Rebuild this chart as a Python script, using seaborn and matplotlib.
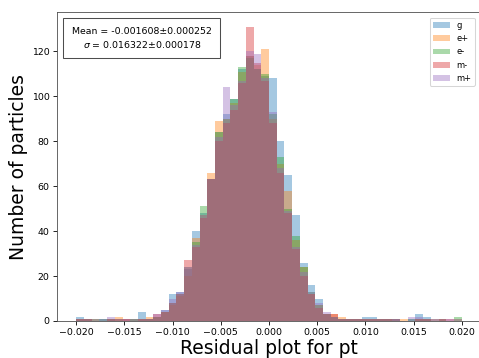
import numpy as np
import pandas as pd
import matplotlib
matplotlib.use("Agg")
import matplotlib.pyplot as plt
import seaborn as sns

# Histogram counts (50 bins from -0.02 to 0.02)
bin_lo = -0.02
bin_hi = 0.02
n_bins = 50

g_counts = [2, 1, 0, 1, 1, 0, 1, 1, 4, 1, 2, 5, 12, 13, 23, 40, 48, 63, 84, 92,
            99, 112, 118, 112, 109, 108, 80, 65, 47, 26, 16, 10, 3, 2, 1, 1, 1, 2, 2, 1,
            1, 1, 0, 1, 3, 2, 1, 0, 0, 0]
ep_counts = [1, 1, 1, 0, 1, 2, 1, 1, 1, 2, 2, 4, 7, 11, 20, 37, 47, 66, 89, 90,
             97, 111, 118, 114, 121, 90, 70, 58, 36, 24, 12, 7, 3, 3, 2, 1, 1, 1, 1, 1,
             1, 0, 1, 0, 1, 1, 1, 1, 0, 1]
em_counts = [1, 1, 1, 1, 1, 1, 0, 1, 1, 1, 2, 4, 8, 12, 24, 35, 51, 63, 84, 90,
             99, 113, 117, 112, 110, 92, 73, 50, 38, 24, 13, 7, 3, 2, 1, 1, 1, 1, 1, 1,
             1, 1, 0, 1, 1, 1, 0, 1, 0, 2]
mm_counts = [1, 1, 0, 0, 1, 1, 1, 0, 1, 1, 3, 4, 8, 12, 27, 33, 46, 63, 80, 88,
             94, 106, 131, 115, 107, 88, 66, 48, 32, 20, 12, 6, 3, 3, 1, 1, 1, 1, 1, 1,
             1, 1, 0, 0, 1, 1, 0, 1, 1, 0]
mp_counts = [1, 1, 1, 1, 2, 1, 1, 1, 1, 1, 3, 5, 10, 13, 24, 34, 47, 63, 82, 104,
             96, 107, 120, 119, 108, 93, 68, 49, 33, 22, 13, 8, 4, 2, 1, 1, 1, 1, 1, 1,
             1, 1, 0, 2, 2, 1, 1, 1, 1, 1]

labels = ["g", "e+", "e-", "m-", "m+"]
series = [g_counts, ep_counts, em_counts, mm_counts, mp_counts]

stats_text = "Mean = -0.001608\u00b10.000252\n$\\sigma$ = 0.016322\u00b10.000178"
xlabel = "Residual plot for pt"
ylabel = "Number of particles"

edges = np.linspace(bin_lo, bin_hi, n_bins + 1)
centers = (edges[:-1] + edges[1:]) / 2

fig = plt.figure(figsize=(479 / 75, 358 / 75), dpi=75)
ax = fig.add_axes([57 / 479, 37 / 358, 424 / 479, 309 / 358])

colors = sns.color_palette("tab10", 5)
for lab, vals, col in zip(labels, series, colors):
    df = pd.DataFrame({"x": centers, "w": vals})
    sns.histplot(data=df, x="x", weights="w", bins=n_bins,
                 binrange=(bin_lo, bin_hi), ax=ax,
                 color=col, alpha=0.4, linewidth=0, edgecolor="none",
                 label=lab)

ticks_x = [-0.02, -0.015, -0.01, -0.005, 0.0, 0.005, 0.01, 0.015, 0.02]
ax.set_xlim(-0.022, 0.022)
ax.set_ylim(0, 137.55)
ax.set_xticks(ticks_x)
ax.set_xticklabels([f"{t:.3f}".replace("-", "\u2212") for t in ticks_x])
ax.set_yticks([0, 20, 40, 60, 80, 100, 120])
ax.set_xlabel(xlabel, fontsize=18, labelpad=2)
ax.set_ylabel(ylabel, fontsize=18)
ax.tick_params(labelsize=9)
ax.spines["right"].set_visible(False)
for s in ["left", "bottom", "top"]:
    ax.spines[s].set_color("0.3")

ax.text(0.2, 0.915, stats_text, transform=ax.transAxes, fontsize=9,
        ha="center", va="center", linespacing=1.3,
        bbox=dict(boxstyle="square,pad=0.9", facecolor="white", edgecolor="0.3"))

ax.legend(loc="upper right", fontsize=8, bbox_to_anchor=(0.995, 0.995))

fig.savefig("out.png", dpi=75)
